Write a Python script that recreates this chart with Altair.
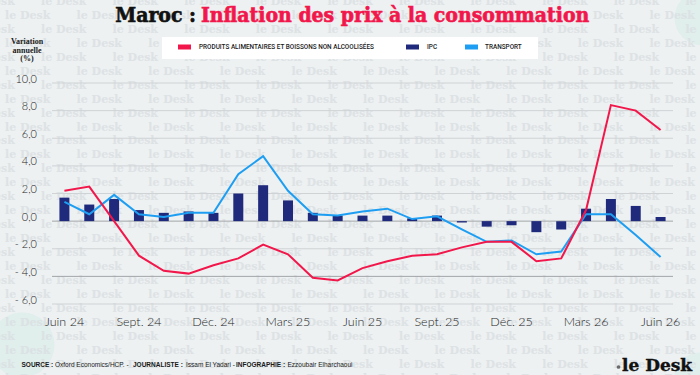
import altair as alt
import pandas as pd

# ---- data -------------------------------------------------------------
months = ["Juin 24", "Juil. 24", "Août 24", "Sept. 24", "Oct. 24", "Nov. 24", "Déc. 24",
          "Janv. 25", "Févr. 25", "Mars 25", "Avr. 25", "Mai 25", "Juin 25", "Juil. 25",
          "Août 25", "Sept. 25", "Oct. 25", "Nov. 25", "Déc. 25", "Janv. 26", "Févr. 26",
          "Mars 26", "Avr. 26", "Mai 26", "Juin 26"]
ipc = [1.7, 1.2, 1.6, 0.8, 0.6, 0.7, 0.6, 2.0, 2.6, 1.5, 0.6, 0.4, 0.4, 0.4,
       0.2, 0.4, -0.1, -0.4, -0.3, -0.8, -0.6, 0.9, 1.6, 1.1, 0.3]
alimentaire = [2.2, 2.5, 0.0, -2.5, -3.6, -3.8, -3.2, -2.7, -1.7, -2.4, -4.1, -4.3, -3.4, -2.9,
               -2.5, -2.4, -1.9, -1.5, -1.5, -2.9, -2.7, 0.8, 8.4, 8.0, 6.6]
transport = [1.4, 0.5, 1.9, 0.5, 0.3, 0.6, 0.6, 3.4, 4.7, 2.2, 0.5, 0.4, 0.7, 0.9,
             0.15, 0.35, -0.6, -1.5, -1.4, -2.4, -2.2, 0.5, 0.5, -1.0, -2.6]

tick_months = ["Juin 24", "Sept. 24", "Déc. 24", "Mars 25", "Juin 25",
               "Sept. 25", "Déc. 25", "Mars 26", "Juin 26"]
y_ticks = [-6, -4, -2, 0, 2, 4, 6, 8, 10]
y_tick_labels = ["- 6,0", "- 4,0", "- 2,0", "0,0", "2,0", "4,0", "6,0", "8,0", "10,0"]

series_names = ["PRODUITS ALIMENTAIRES ET BOISSONS NON ALCOOLISÉES", "IPC", "TRANSPORT"]
series_colors = ["#f2174b", "#1f2a7c", "#1e9ef2"]

title_left = "Maroc :"
title_right = "Inflation des prix à la consommation"
y_title_lines = ["Variation", "annuelle", "(%)"]
footer_parts = [("SOURCE :", "bold"), ("Oxford Economics/HCP. -", "normal"),
                ("JOURNALISTE :", "bold"), ("Issam El Yadari -", "normal"),
                ("INFOGRAPHIE :", "bold"), ("Ezzoubair Elharchaoui", "normal")]
brand = "le Desk"

# ---- layout -------------------------------------------------------------
W, H = 700, 375
LEFT, TOP = 52, 83
PLOT_W, PLOT_H = 621, 221
BG = "#edf1f2"
TITLE_FONT = "DejaVu Serif Condensed, DejaVu Serif"


def px(x):
    return x - LEFT


def py(y):
    return y - TOP


df = pd.DataFrame({"mois": months, "ipc": ipc, "alim": alimentaire, "transport": transport})
grid_df = pd.DataFrame({"v": y_ticks, "lab": y_tick_labels})
one = pd.DataFrame({"k": [0]})

x_enc = alt.X("mois:N", sort=months,
              scale=alt.Scale(domain=months, paddingInner=0, paddingOuter=0),
              axis=alt.Axis(values=tick_months, title=None, domain=False, ticks=False,
                            grid=False, labelAngle=0, labelFont="Lato", labelFontSize=12.5,
                            labelFontWeight=300, labelColor="#262626", labelPadding=11,
                            zindex=1))
y_scale = alt.Scale(domain=[-6, 10], nice=False, zero=False)

# horizontal guides (drawn under the bars) and their value labels
grid = alt.Chart(grid_df).mark_rule(strokeWidth=1).encode(
    y=alt.Y("v:Q", scale=y_scale, axis=None),
    color=alt.condition("datum.v === 0 || datum.v === -4",
                        alt.value("#a3a6a8"), alt.value("#cfd3d5")))
grid_labels = alt.Chart(grid_df).mark_text(
    align="right", baseline="alphabetic", font="Lato", fontWeight=300, fontSize=11,
    color="#262626", dy=-0.5).encode(
    x=alt.value(-15), y=alt.Y("v:Q", scale=y_scale, axis=None), text="lab:N")

base = alt.Chart(df)
bars = base.mark_bar(size=10, color=series_colors[1]).encode(
    x=x_enc, y=alt.Y("ipc:Q", axis=None), y2=alt.datum(0))
line_transport = base.mark_line(color=series_colors[2], strokeWidth=2).encode(
    x=alt.X("mois:N", sort=months, bandPosition=0.5), y=alt.Y("transport:Q", axis=None))
line_alim = base.mark_line(color=series_colors[0], strokeWidth=2).encode(
    x=alt.X("mois:N", sort=months, bandPosition=0.5), y=alt.Y("alim:Q", axis=None))
data_layer = alt.layer(grid, grid_labels, bars, line_transport, line_alim)

# ---- background: pale discs and watermark --------------------------------------
discs = pd.DataFrame({"x": [px(22), px(702), px(700)], "y": [py(345), py(18), py(378)],
                      "s": [4200, 3000, 2600]})
disc_layer = alt.Chart(discs).mark_circle(color="#d5ebe8", opacity=0.55).encode(
    x=alt.X("x:Q", scale=None), y=alt.Y("y:Q", scale=None),
    size=alt.Size("s:Q", scale=None, legend=None))

wm = []
for r in range(-6, 24):
    yy = 71.7 + 13.95 * r
    off = 5 if r % 2 == 0 else 41
    for k in range(-1, 11):
        wm.append({"x": px(off + 71.6 * k), "y": py(yy)})
watermark = alt.Chart(pd.DataFrame(wm)).mark_text(
    text=brand, font="DejaVu Serif", fontWeight="bold", fontSize=11, align="left",
    baseline="middle", color="#dbe0e2", opacity=0.85).encode(
    x=alt.X("x:Q", scale=None), y=alt.Y("y:Q", scale=None))


def txt(s, x, y, **kw):
    return alt.Chart(one).mark_text(text=s, **kw).encode(x=alt.value(px(x)), y=alt.value(py(y)))


def box(x1, x2, y1, y2, color, **kw):
    return alt.Chart(one).mark_rect(color=color, **kw).encode(
        x=alt.value(px(x1)), x2=alt.value(px(x2)), y=alt.value(py(y1)), y2=alt.value(py(y2)))


deco = []
# title
deco.append(txt(title_left, 196, 21.5, align="right", baseline="alphabetic",
                font=TITLE_FONT, fontWeight="bold", fontSize=21, color="#111111",
                stroke="#111111", strokeWidth=0.6))
deco.append(txt(title_right, 201, 21.5, align="left", baseline="alphabetic",
                font=TITLE_FONT, fontWeight="bold", fontSize=21, color=series_colors[0],
                stroke=series_colors[0], strokeWidth=0.6))
# legend
deco.append(box(162, 538, 37, 59, "#ffffff"))
legend_swatches = [178, 406, 465]
legend_labels = [199, 427, 485]
for name, col, sx, lx in zip(series_names, series_colors, legend_swatches, legend_labels):
    deco.append(box(sx, sx + 13, 44.5, 49.5, col))
    deco.append(txt(name, lx, 47, align="left", baseline="middle", font="Roboto",
                    fontWeight=500, fontSize=6.4, color="#1a1a1a"))
# y title
for i, line in enumerate(y_title_lines):
    deco.append(txt(line, 27, 42 + 8.7 * i, align="center", baseline="middle",
                    font="Liberation Serif", fontWeight="bold", fontSize=8, color="#1a1a1a"))
# footer
footer_x = [21.5, 55, 133, 186, 236, 287.5]
for (s, w), fx in zip(footer_parts, footer_x):
    deco.append(txt(s, fx, 365, align="left", baseline="middle", font="Liberation Sans",
                    fontWeight=w, fontSize=6.5, color="#1a1a1a"))
# brand mark
deco.append(alt.Chart(one).mark_circle(size=14, color="#333333").encode(
    x=alt.value(px(618.5)), y=alt.value(py(367))))
deco.append(txt(brand, 622, 366, align="left", baseline="middle", font="DejaVu Serif",
                fontWeight="bold", fontSize=17, color="#111111",
                stroke="#111111", strokeWidth=0.4))

chart = alt.layer(disc_layer, watermark, *deco, data_layer).resolve_scale(
    x="independent", y="independent", size="independent").properties(
    width=PLOT_W, height=PLOT_H, background=BG,
    padding={"left": LEFT, "top": TOP, "right": W - LEFT - PLOT_W, "bottom": H - TOP - PLOT_H},
    autosize=alt.AutoSizeParams(type="none")
).configure_view(stroke=None)

chart.save("out.html", embed_options={"renderer": "svg", "actions": False})
